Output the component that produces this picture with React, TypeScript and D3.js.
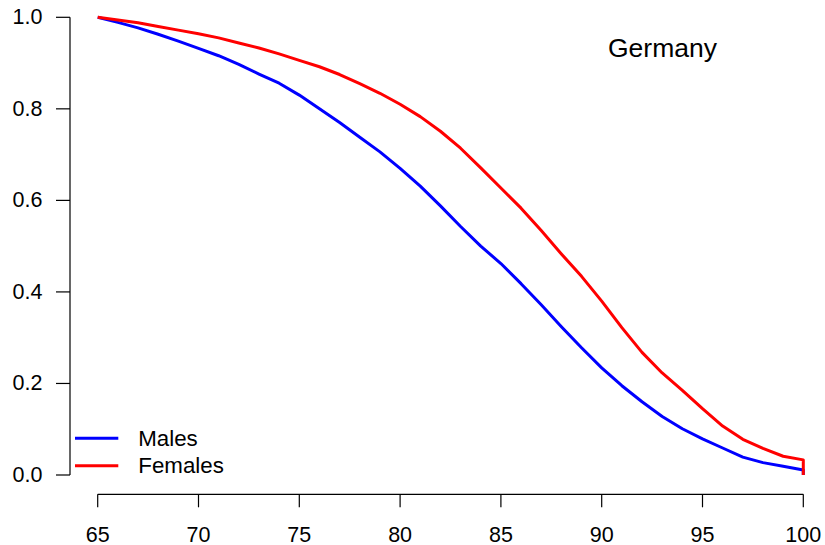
import React from "react";
import * as d3 from "d3";

// Survival from age 65, Germany
const ages = [
  65, 66, 67, 68, 69, 70, 71, 72, 73, 74, 75, 76, 77, 78, 79, 80, 81, 82,
  83, 84, 85, 86, 87, 88, 89, 90, 91, 92, 93, 94, 95, 96, 97, 98, 99, 100,
];
const males = [
  1.0, 0.989, 0.977, 0.963, 0.948, 0.932, 0.916, 0.897, 0.876, 0.856, 0.83,
  0.8, 0.77, 0.738, 0.706, 0.67, 0.631, 0.588, 0.543, 0.5, 0.462, 0.418,
  0.372, 0.324, 0.278, 0.234, 0.195, 0.16, 0.128, 0.101, 0.079, 0.059, 0.039,
  0.027, 0.019, 0.011,
];
const females = [
  1.0, 0.994, 0.988, 0.98, 0.972, 0.964, 0.955, 0.944, 0.933, 0.92, 0.906,
  0.892, 0.875, 0.855, 0.834, 0.81, 0.783, 0.751, 0.714, 0.671, 0.627, 0.583,
  0.534, 0.483, 0.434, 0.38, 0.322, 0.268, 0.223, 0.185, 0.145, 0.107, 0.078,
  0.058, 0.041, 0.033,
];
// Final age at which the curves fall to zero
const endAge = 100;

const xTicks = [65, 70, 75, 80, 85, 90, 95, 100];
const yTicks = [0, 0.2, 0.4, 0.6, 0.8, 1.0];

const seriesNames = ["Males", "Females"];
const seriesColors = ["#0000ff", "#ff0000"];
const title = "Germany";

const W = 825;
const H = 545;
const FONT = "'Liberation Sans', Arial, Helvetica, sans-serif";

export default function App() {
  const x = d3.scaleLinear().domain([65, 100]).range([97.7, 803.3]);
  const y = d3.scaleLinear().domain([0, 1]).range([475, 17.3]);

  const line = d3
    .line<[number, number]>()
    .x((d) => x(d[0]))
    .y((d) => y(d[1]));

  const series = [males, females].map((vals) => {
    const pts: [number, number][] = ages.map((a, i) => [a, vals[i]]);
    pts.push([endAge, 0]);
    return pts;
  });

  const axisY = 494.3;
  const axisX = 70;

  return (
    <svg
      width={W}
      height={H}
      style={{ position: "fixed", left: 0, top: 0, background: "#fff" }}
      fontFamily={FONT}
    >
      <rect width={W} height={H} fill="#fff" />

      {/* y axis */}
      <line
        x1={axisX}
        x2={axisX}
        y1={y(0)}
        y2={y(1)}
        stroke="#000"
        strokeWidth={1.2}
      />
      {yTicks.map((t) => (
        <g key={t}>
          <line
            x1={axisX - 14}
            x2={axisX}
            y1={y(t)}
            y2={y(t)}
            stroke="#000"
            strokeWidth={1.2}
          />
          <text
            x={42.5}
            y={y(t)}
            textAnchor="end"
            dominantBaseline="central"
            fontSize={21.5}
            fill="#000"
          >
            {d3.format(".1f")(t)}
          </text>
        </g>
      ))}

      {/* x axis */}
      <line
        x1={x(65)}
        x2={x(100)}
        y1={axisY}
        y2={axisY}
        stroke="#000"
        strokeWidth={1.2}
      />
      {xTicks.map((t) => (
        <g key={t}>
          <line
            x1={x(t)}
            x2={x(t)}
            y1={axisY}
            y2={axisY + 13}
            stroke="#000"
            strokeWidth={1.2}
          />
          <text
            x={x(t)}
            y={542}
            textAnchor="middle"
            fontSize={21.5}
            fill="#000"
          >
            {t}
          </text>
        </g>
      ))}

      {/* survival curves */}
      {series.map((pts, i) => (
        <path
          key={seriesNames[i]}
          d={line(pts) ?? ""}
          fill="none"
          stroke={seriesColors[i]}
          strokeWidth={3}
          strokeLinejoin="round"
        />
      ))}

      {/* title */}
      <text x={662.5} y={57} textAnchor="middle" fontSize={26.5} fill="#000">
        {title}
      </text>

      {/* legend */}
      {seriesNames.map((name, i) => {
        const ly = 438.3 + i * 27.4;
        return (
          <g key={name}>
            <line
              x1={75}
              x2={118.3}
              y1={ly}
              y2={ly}
              stroke={seriesColors[i]}
              strokeWidth={3}
            />
            <text
              x={138.3}
              y={ly}
              dominantBaseline="central"
              fontSize={22.3}
              fill="#000"
            >
              {name}
            </text>
          </g>
        );
      })}
    </svg>
  );
}
